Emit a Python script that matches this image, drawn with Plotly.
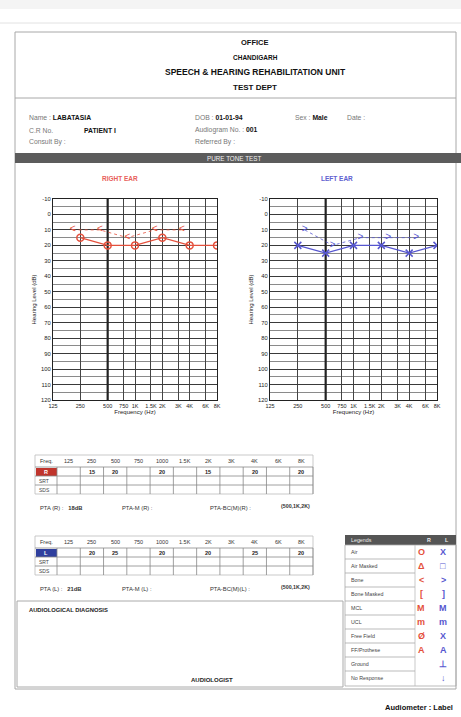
import math
import plotly.graph_objects as go

# ---------------- data ----------------
freq_ticks = [125, 250, 500, 750, 1000, 1500, 2000, 3000, 4000, 6000, 8000]
freq_tick_labels = ["125", "250", "500", "750", "1K", "1.5K", "2K", "3K", "4K", "6K", "8K"]
table_freq_labels = ["125", "250", "500", "750", "1000", "1.5K", "2K", "3K", "4K", "6K", "8K"]
db_ticks = list(range(-10, 130, 10))

right_air_freq = [250, 500, 1000, 2000, 4000, 8000]
right_air_db = [15, 20, 20, 15, 20, 20]
right_bone_freq = [250, 500, 1000, 2000, 4000]
right_bone_db = [10, 10, 15, 10, 10]

left_air_freq = [250, 500, 1000, 2000, 4000, 8000]
left_air_db = [20, 25, 20, 20, 25, 20]
left_bone_freq = [250, 500, 1000, 2000, 4000]
left_bone_db = [10, 20, 15, 15, 15]

emphasis_freqs = [500]

pta_right = "18dB"
pta_left = "21dB"

legend_labels = ["Air", "Air Masked", "Bone", "Bone Masked", "MCL", "UCL",
                 "Free Field", "FF/Prothese", "Ground", "No Response"]
legend_right_sym = ["O", "Δ", "<", "[", "M", "m", "Ø", "A", "", ""]
legend_left_sym = ["X", "□", ">", "]", "M", "m", "X", "A", "⊥", "↓"]

# ---------------- styling ----------------
W, H = 461, 717
RED = "#e4503c"
BLUE = "#5656cf"
FONT = "Liberation Sans, Arial, sans-serif"


def px(x):
    return x / W


def py(y):
    return 1 - y / H


fig = go.Figure()
shapes = []
anns = []


def rect(x0, y0, x1, y1, line="#888", width=1, fill=None):
    d = dict(type="rect", xref="paper", yref="paper",
             x0=px(x0), x1=px(x1), y0=py(y0), y1=py(y1),
             line=dict(color=line, width=width), layer="below")
    if fill:
        d["fillcolor"] = fill
    if width == 0:
        d["line"] = dict(width=0)
    shapes.append(d)


def hline(x0, x1, y, color="#888", width=1):
    shapes.append(dict(type="line", xref="paper", yref="paper",
                       x0=px(x0), x1=px(x1), y0=py(y), y1=py(y),
                       line=dict(color=color, width=width)))


def vline(x, y0, y1, color="#888", width=1):
    shapes.append(dict(type="line", xref="paper", yref="paper",
                       x0=px(x), x1=px(x), y0=py(y0), y1=py(y1),
                       line=dict(color=color, width=width)))


def text(x, y, s, size=6.5, color="#222", bold=False, anchor="left"):
    if bold:
        s = "<b>" + s + "</b>"
    anns.append(dict(xref="paper", yref="paper", x=px(x), y=py(y), text=s,
                     showarrow=False, xanchor=anchor, yanchor="middle",
                     font=dict(size=size, color=color, family=FONT)))


# ---- page frame ----
rect(0, 0, 461, 9, width=0, fill="#f4f4f4")
hline(0, 461, 23, color="#e2e2e2", width=1)
rect(15, 32, 456, 689, line="#a8a8a8", width=1)
hline(15, 456, 98, color="#a8a8a8", width=1)

# ---- header ----
text(255, 43, "OFFICE", 7.5, "#111", True, "center")
text(255, 57, "CHANDIGARH", 6.5, "#111", True, "center")
text(255, 72, "SPEECH &amp; HEARING REHABILITATION UNIT", 8.5, "#111", True, "center")
text(255, 87, "TEST DEPT", 8, "#111", True, "center")

# ---- patient info ----
GR = "#777"
text(27, 118, "Name : <b><span style='color:#111'>LABATASIA</span></b>", 6.8, GR)
text(27, 130, "C.R No.", 6.8, GR)
text(82, 130, "PATIENT I", 6.8, "#111", True)
text(27, 142, "Consult By :", 6.8, GR)
text(193, 118, "DOB : <b><span style='color:#111'>01-01-94</span></b>", 6.8, GR)
text(193, 130, "Audiogram No. : <b><span style='color:#111'>001</span></b>", 6.8, GR)
text(193, 142, "Referred By :", 6.8, GR)
text(293, 118, "Sex : <b><span style='color:#111'>Male</span></b>", 6.8, GR)
text(345, 118, "Date :", 6.8, GR)

# ---- pure tone bar ----
rect(15, 153, 461, 163, width=0, fill="#5c5c5c")
text(234, 158, "PURE TONE TEST", 6.3, "#f0f0f0", False, "center")
text(120, 178, "RIGHT EAR", 6.5, "#e8605a", True, "center")
text(337, 178, "LEFT EAR", 6.5, "#6060d0", True, "center")


# ---- audiogram traces ----
def add_ear(xa, ya, air_f, air_db, bone_f, bone_db, color, air_symbol, bone_char, shift):
    for f in emphasis_freqs:
        fig.add_trace(go.Scatter(x=[f, f], y=[db_ticks[0], db_ticks[-1]], mode="lines",
                                 line=dict(color="#222", width=2.2), xaxis=xa, yaxis=ya,
                                 hoverinfo="skip", showlegend=False))
    bx = [f * 2 ** shift for f in bone_f]
    fig.add_trace(go.Scatter(x=bx, y=bone_db, mode="lines+text", text=[bone_char] * len(bx),
                             textposition="middle center",
                             textfont=dict(size=10, color=color, family=FONT),
                             line=dict(color=color, width=0.8, dash="dot"),
                             xaxis=xa, yaxis=ya, showlegend=False))
    fig.add_trace(go.Scatter(x=air_f, y=air_db, mode="lines+markers",
                             marker=dict(symbol=air_symbol, size=7, color=color,
                                         line=dict(color=color, width=1.5)),
                             line=dict(color=color, width=1.3),
                             xaxis=xa, yaxis=ya, showlegend=False))


add_ear("x", "y", right_air_freq, right_air_db, right_bone_freq, right_bone_db,
        RED, "circle-open", "<", -0.28)
add_ear("x2", "y2", left_air_freq, left_air_db, left_bone_freq, left_bone_db,
        BLUE, "x-thin-open", ">", 0.25)

minor_db = [v + 5 for v in db_ticks[:-1]]

xcommon = dict(type="log", range=[math.log10(125), math.log10(8000)],
               tickmode="array", tickvals=freq_ticks, ticktext=freq_tick_labels,
               tickangle=0,
               showgrid=True, gridcolor="#444", gridwidth=1,
               showline=True, mirror=True, linecolor="#222", linewidth=1.2,
               ticks="", tickfont=dict(size=5.5, color="#222", family=FONT),
               title=dict(text="Frequency (Hz)", font=dict(size=6, color="#222", family=FONT),
                          standoff=2),
               zeroline=False, fixedrange=True, automargin=False)
ycommon = dict(range=[db_ticks[-1], db_ticks[0]], tickmode="array", tickvals=db_ticks,
               ticktext=[str(v) for v in db_ticks],
               showgrid=True, gridcolor="#3a3a3a", gridwidth=1,
               minor=dict(tickmode="array", tickvals=minor_db, showgrid=True,
                          gridcolor="#8a8a8a", gridwidth=1, ticks=""),
               showline=True, mirror=True, linecolor="#222", linewidth=1.2,
               ticks="", tickfont=dict(size=5.8, color="#222", family=FONT),
               title=dict(text="Hearing Level (dB)", font=dict(size=6, color="#222", family=FONT),
                          standoff=3),
               zeroline=False, fixedrange=True, automargin=False)

ydom = [py(400), py(199)]
fig.update_layout(
    xaxis=dict(xcommon, domain=[px(53), px(217)], anchor="y"),
    yaxis=dict(ycommon, domain=ydom, anchor="x"),
    xaxis2=dict(xcommon, domain=[px(270), px(437)], anchor="y2"),
    yaxis2=dict(ycommon, domain=ydom, anchor="x2"),
)


# ---- threshold tables ----
def draw_table(top, ear_label, ear_color, air_f, air_db, pta_text, ear_tag):
    x0, x1 = 35, 313
    lab_w = 22
    cw = (x1 - x0 - lab_w) / len(table_freq_labels)
    hdr_y = top + 6
    text(x0 + 3, hdr_y, "Freq.", 5.5, "#333")
    for i, lab in enumerate(table_freq_labels):
        text(x0 + lab_w + cw * (i + 0.5), hdr_y, lab, 5.5, "#333", False, "center")
    g0 = top + 12
    rh = 9
    rect(x0, top, x1, g0 + 3 * rh, line="#bbb", width=0.8)
    hline(x0, x1, g0, "#888", 0.8)
    for r in range(1, 3):
        hline(x0, x1, g0 + r * rh, "#888", 0.8)
    for i in range(len(table_freq_labels) + 1):
        vline(x0 + lab_w + cw * i, g0, g0 + 3 * rh, "#888", 0.8)
    rect(x0 + 1, g0 + 1, x0 + lab_w, g0 + rh, width=0, fill=ear_color)
    text(x0 + lab_w / 2, g0 + rh / 2, ear_label, 5.5, "white", True, "center")
    text(x0 + 2, g0 + 1.5 * rh, "SRT", 5, "#444")
    text(x0 + 2, g0 + 2.5 * rh, "SDS", 5, "#444")
    lookup = dict(zip(air_f, air_db))
    for i, f in enumerate(freq_ticks):
        if f in lookup:
            text(x0 + lab_w + cw * (i + 0.5), g0 + rh / 2, str(lookup[f]), 5.5, "#222", True, "center")
    ry = g0 + 3 * rh + 14
    text(38, ry, "PTA (%s) :&nbsp;&nbsp; <b>%s</b>" % (ear_tag, pta_text), 5.8, "#333")
    text(120, ry, "PTA-M (%s) :" % ear_tag, 5.8, "#333")
    text(208, ry, "PTA-BC(M)(%s) :" % ear_tag, 5.8, "#333")
    text(312, ry - 2, "(500,1K,2K)", 5.3, "#333", True, "right")


draw_table(455, "R", "#c0342c", right_air_freq, right_air_db, pta_right, "R")
draw_table(536, "L", "#2f3f9e", left_air_freq, left_air_db, pta_left, "L")

# ---- diagnosis box ----
rect(17, 601, 343, 687, line="#aaa", width=1)
text(27, 610, "AUDIOLOGICAL DIAGNOSIS", 5.8, "#222", True)
text(212, 680, "AUDIOLOGIST", 6, "#222", True, "center")

# ---- symbol legend ----
lx0, lx1 = 345, 456
rect(lx0, 535, lx1, 545, width=0, fill="#555")
text(lx0 + 4, 540, "Legends", 5.3, "#eee")
text(429, 540, "R", 5.3, "#eee", True, "center")
text(447, 540, "L", 5.3, "#eee", True, "center")
rect(lx0, 545, lx1, 686, line="#aaa", width=0.8)
vline(415, 545, 686, "#bbb", 0.8)
for i, lab in enumerate(legend_labels):
    cy = 552 + 14 * i
    text(lx0 + 4, cy, lab, 5.3, "#444")
    if i > 0:
        hline(lx0, 415, cy - 7, "#aaa", 0.8)
    text(421, cy, legend_right_sym[i], 9, RED, True, "center")
    text(443, cy, legend_left_sym[i], 9, BLUE, True, "center")

text(455, 707, "Audiometer : Label", 7.5, "#111", True, "right")

fig.update_layout(
    width=W, height=H, margin=dict(l=0, r=0, t=0, b=0),
    paper_bgcolor="white", plot_bgcolor="white",
    shapes=shapes, annotations=anns, showlegend=False,
    font=dict(family=FONT),
)
fig.write_html("out.html", config={"displayModeBar": False},
               post_script="document.body.style.margin='0px';document.body.style.overflow='hidden';")
